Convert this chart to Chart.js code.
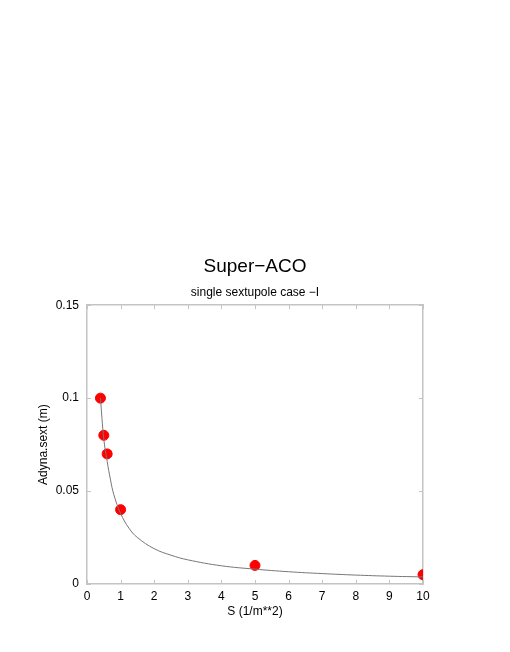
<!DOCTYPE html>
<html>
<head>
<meta charset="utf-8">
<script src="https://cdn.jsdelivr.net/npm/chart.js@4/dist/chart.umd.min.js"></script>
<style>
  html, body { margin: 0; padding: 0; background: #fff; }
  #wrap { width: 510px; height: 652px; }
</style>
</head>
<body>
<div id="wrap"><canvas id="chart"></canvas></div>
<script>
// measured points
const sValues = [0.4, 0.5, 0.6, 1, 5, 10];
const adynaValues = [0.1, 0.08, 0.07, 0.04, 0.01, 0.005];

// fitted curve
const curveS = [0.4, 0.5, 0.6, 0.7, 0.8, 1, 1.25, 1.5, 2, 2.5, 3, 4, 5, 6, 7, 8, 9, 10];
const curveAdyna = [0.1, 0.078, 0.066, 0.056, 0.048, 0.038, 0.030, 0.025, 0.019, 0.0155, 0.013, 0.0098, 0.008, 0.0066, 0.0056, 0.0048, 0.0042, 0.0038];

const xTicks = [0, 1, 2, 3, 4, 5, 6, 7, 8, 9, 10];
const yTicks = [0, 0.05, 0.1, 0.15];

const frameColor = '#c4c4c4';
const fontFamily = '"Liberation Sans", Arial, sans-serif';

// inward tick marks on all four sides
const innerTicks = {
  id: 'innerTicks',
  afterDraw(chart) {
    const { ctx, chartArea: a, scales } = chart;
    ctx.save();
    ctx.strokeStyle = frameColor;
    ctx.lineWidth = 1;
    ctx.beginPath();
    xTicks.forEach((v) => {
      const px = Math.round(scales.x.getPixelForValue(v)) + 0.5;
      ctx.moveTo(px, a.bottom);
      ctx.lineTo(px, a.bottom - 4);
      ctx.moveTo(px, a.top);
      ctx.lineTo(px, a.top + 4);
    });
    yTicks.forEach((v) => {
      const py = Math.round(scales.y.getPixelForValue(v)) + 0.5;
      ctx.moveTo(a.left, py);
      ctx.lineTo(a.left + 4, py);
      ctx.moveTo(a.right, py);
      ctx.lineTo(a.right - 4, py);
    });
    ctx.stroke();
    ctx.restore();
  },
};

const toXY = (xs, ys) => xs.map((x, i) => ({ x: x, y: ys[i] }));

new Chart(document.getElementById('chart'), {
  type: 'scatter',
  data: {
    datasets: [
      {
        type: 'line',
        data: toXY(curveS, curveAdyna),
        borderColor: '#777777',
        borderWidth: 1,
        pointRadius: 0,
        tension: 0.4,
        fill: false,
      },
      {
        data: toXY(sValues, adynaValues),
        backgroundColor: '#ff0000',
        borderColor: '#ff0000',
        pointRadius: 5,
        pointHoverRadius: 5,
      },
    ],
  },
  options: {
    responsive: true,
    maintainAspectRatio: false,
    animation: false,
    layout: { padding: { left: 0, right: 0, top: 0, bottom: 0 } },
    plugins: {
      legend: { display: false },
      tooltip: { enabled: false },
      title: {
        display: true,
        text: 'Super\u2212ACO',
        color: '#000',
        font: { family: fontFamily, size: 19, weight: 'normal' },
        padding: { top: 255, bottom: 4 },
      },
      subtitle: {
        display: true,
        text: 'single sextupole case \u2212I',
        color: '#000',
        font: { family: fontFamily, size: 12, weight: 'normal' },
        padding: { top: 4, bottom: 5 },
      },
    },
    scales: {
      x: {
        type: 'linear',
        min: 0,
        max: 10,
        afterBuildTicks: (axis) => { axis.ticks = xTicks.map((v) => ({ value: v })); },
        border: { color: frameColor, width: 1.5 },
        grid: { display: false, drawTicks: false },
        ticks: { color: '#000', font: { family: fontFamily, size: 12 }, padding: 5, maxRotation: 0 },
        title: {
          display: true,
          text: 'S (1/m**2)',
          color: '#000',
          font: { family: fontFamily, size: 12 },
          padding: { top: 1, bottom: 33 },
        },
        afterFit: (axis) => { axis.height = 68; },
      },
      y: {
        type: 'linear',
        min: 0,
        max: 0.15,
        afterBuildTicks: (axis) => { axis.ticks = yTicks.map((v) => ({ value: v })); },
        border: { color: frameColor, width: 1.5 },
        grid: { display: false, drawTicks: false },
        ticks: {
          color: '#000',
          font: { family: fontFamily, size: 12 },
          padding: 8,
          callback: (v) => String(v),
        },
        title: {
          display: true,
          text: 'Adyna.sext (m)',
          color: '#000',
          font: { family: fontFamily, size: 12 },
          padding: { top: 36, bottom: 0 },
        },
        afterFit: (axis) => { axis.width = 87; },
      },
      x2: {
        type: 'linear',
        position: 'top',
        min: 0,
        max: 10,
        border: { color: frameColor, width: 1.5 },
        grid: { display: false, drawTicks: false },
        ticks: { display: false },
        afterFit: (axis) => { axis.height = 0; },
      },
      y2: {
        type: 'linear',
        position: 'right',
        min: 0,
        max: 0.15,
        border: { color: frameColor, width: 1.5 },
        grid: { display: false, drawTicks: false },
        ticks: { display: false },
        afterFit: (axis) => { axis.width = 87; },
      },
    },
  },
  plugins: [innerTicks],
});
</script>
</body>
</html>
